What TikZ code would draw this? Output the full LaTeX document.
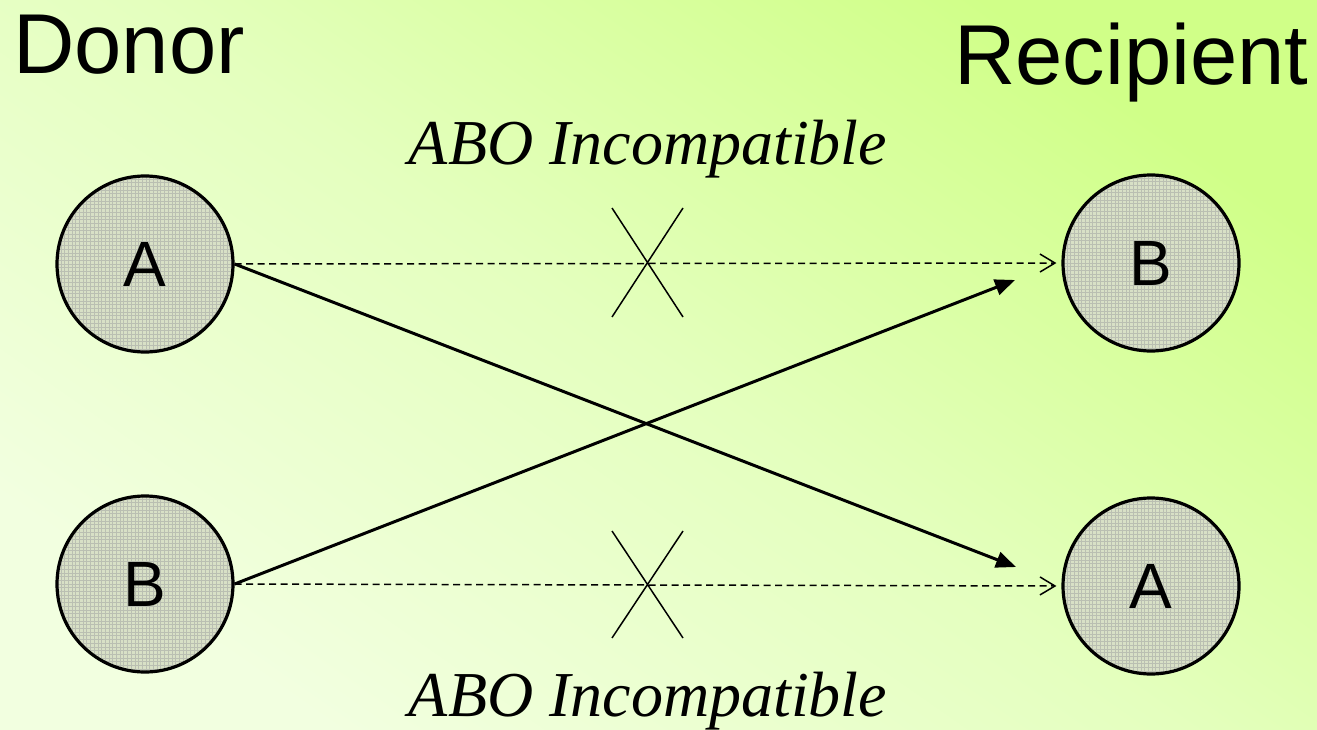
\documentclass[tikz,border=0pt]{standalone}
\usepackage{fontspec}
\setmainfont{Liberation Serif}
\setsansfont{Liberation Sans}
\usetikzlibrary{arrows.meta}
\definecolor{bgpale}{HTML}{F2FFE0}
\definecolor{bgmid}{HTML}{E4FFBE}
\definecolor{bgvivid}{HTML}{D0FF88}
\definecolor{cellfill}{HTML}{D8E0C6}
\definecolor{gridc}{HTML}{BABFB2}
\tikzset{
  blood/.style={circle, draw=black, line width=3.2pt, minimum size=176pt, inner sep=0pt,
    fill=cellfill, font=\sffamily\fontsize{64}{64}\selectfont,
    path picture={\draw[gridc, line width=0.35pt] (path picture bounding box.south west) grid[step=3.7pt] (path picture bounding box.north east);}},
  title/.style={font=\sffamily\fontsize{85}{85}\selectfont, inner sep=0pt},
  abo/.style={font=\rmfamily\itshape\fontsize{64}{64}\selectfont, inner sep=0pt, anchor=base},
  incompat/.style={dash pattern=on 7pt off 4.5pt, line width=1.5pt, -{Straight Barb[length=15pt,width=18pt,line width=1.5pt]}, shorten >=5pt},
  match/.style={line width=3pt, -{Triangle[length=20pt,width=16pt]}},
  cross/.style={line width=1.5pt}
}
\begin{document}
\begin{tikzpicture}[x=1pt,y=-1pt]
\useasboundingbox (0,0) rectangle (1317,730);
\shade[top color=bgvivid, bottom color=bgpale, middle color=bgmid, shading angle=-35] (0,0) rectangle (1317,730);

\node[title, anchor=base west] (donorlbl) at (13,74) {Donor};
\node[title, anchor=base west] (reclbl) at (954,85) {Recipient};

\node[blood] (donorA) at (145,264) {A};
\node[blood] (donorB) at (145,584) {B};
\node[blood] (recB) at (1151,263) {B};
\node[blood] (recA) at (1151,586) {A};

\coordinate (tipA) at (1016,567);
\coordinate (tipB) at (1015,280);

\draw[incompat] (donorA.east) -- (recB.west);
\draw[incompat] (donorB.east) -- (recA.west);
\draw[match] (donorA.east) -- (tipA);
\draw[match] (donorB.east) -- (tipB);

\draw[cross] (612,208) -- (683,317) (683,208) -- (612,317);
\draw[cross] (612,531) -- (683,638) (683,531) -- (612,638);

\node[abo] (abo1) at (648,165) {ABO Incompatible};
\node[abo] (abo2) at (648,716) {ABO Incompatible};
\end{tikzpicture}
\end{document}
